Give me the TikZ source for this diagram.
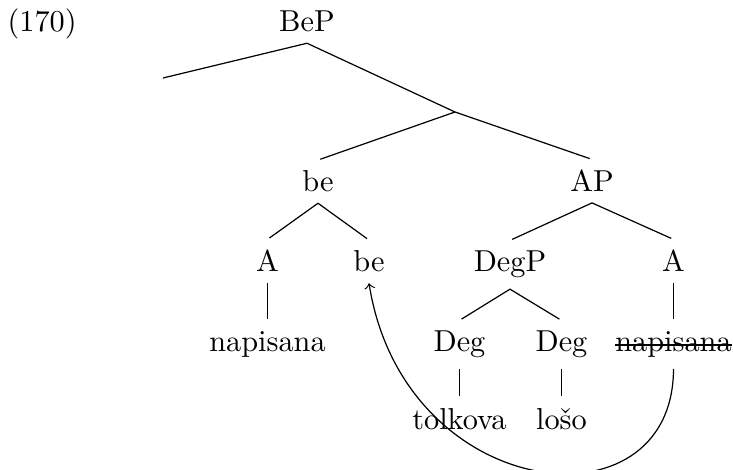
\documentclass[tikz,border=0pt]{standalone}
\begin{document}
\begin{tikzpicture}[x=0.33pt,y=-0.33pt,
  lbl/.style={anchor=base,inner sep=3.4pt},
  branch/.style={shorten >=0.8pt}]
\useasboundingbox (0,0) rectangle (733,470);
\node[anchor=base west,inner sep=0pt] (ex) at (7,32) {(170)};
\node[lbl] (bep) at (307,32) {BeP};
\coordinate (spec) at (163,78);
\coordinate (bebar) at (455,112);
\node[lbl] (be2) at (318,192) {be};
\node[lbl] (ap) at (592,192) {AP};
\node[lbl] (a1) at (267.5,272) {A};
\node[lbl] (be3) at (369,272) {be};
\node[lbl] (degp) at (510,272) {DegP};
\node[lbl] (a2) at (673.5,272) {A};
\node[lbl] (nap1) at (267.5,352) {napisana};
\node[lbl] (deg1) at (459.5,352) {Deg};
\node[lbl] (deg2) at (561.5,352) {Deg};
\node[lbl] (nap2) at (673.5,352) {napisana};
\node[lbl] (tol) at (459.5,430) {tolkova};
\node[lbl] (loso) at (561.5,430) {lošo};
\draw ([shift={(3.4pt,2.3pt)}]nap2.base west) -- ([shift={(-3.4pt,2.3pt)}]nap2.base east);
\draw (bep.south) -- (spec);
\draw (bep.south) -- (bebar);
\draw[branch] (bebar) -- (be2.north);
\draw[branch] (bebar) -- (ap.north);
\draw[branch] (be2.south) -- (a1.north);
\draw[branch] (be2.south) -- (be3.north);
\draw[branch] (ap.south) -- (degp.north);
\draw[branch] (ap.south) -- (a2.north);
\draw[branch] (a1.south) -- (nap1.north);
\draw[branch] (degp.south) -- (deg1.north);
\draw[branch] (degp.south) -- (deg2.north);
\draw[branch] (a2.south) -- (nap2.north);
\draw[branch] (deg1.south) -- (tol.north);
\draw[branch] (deg2.south) -- (loso.north);
\draw[->] (nap2.south) .. controls +(0,165) and +(35,220) .. (be3.south);
\end{tikzpicture}
\end{document}
